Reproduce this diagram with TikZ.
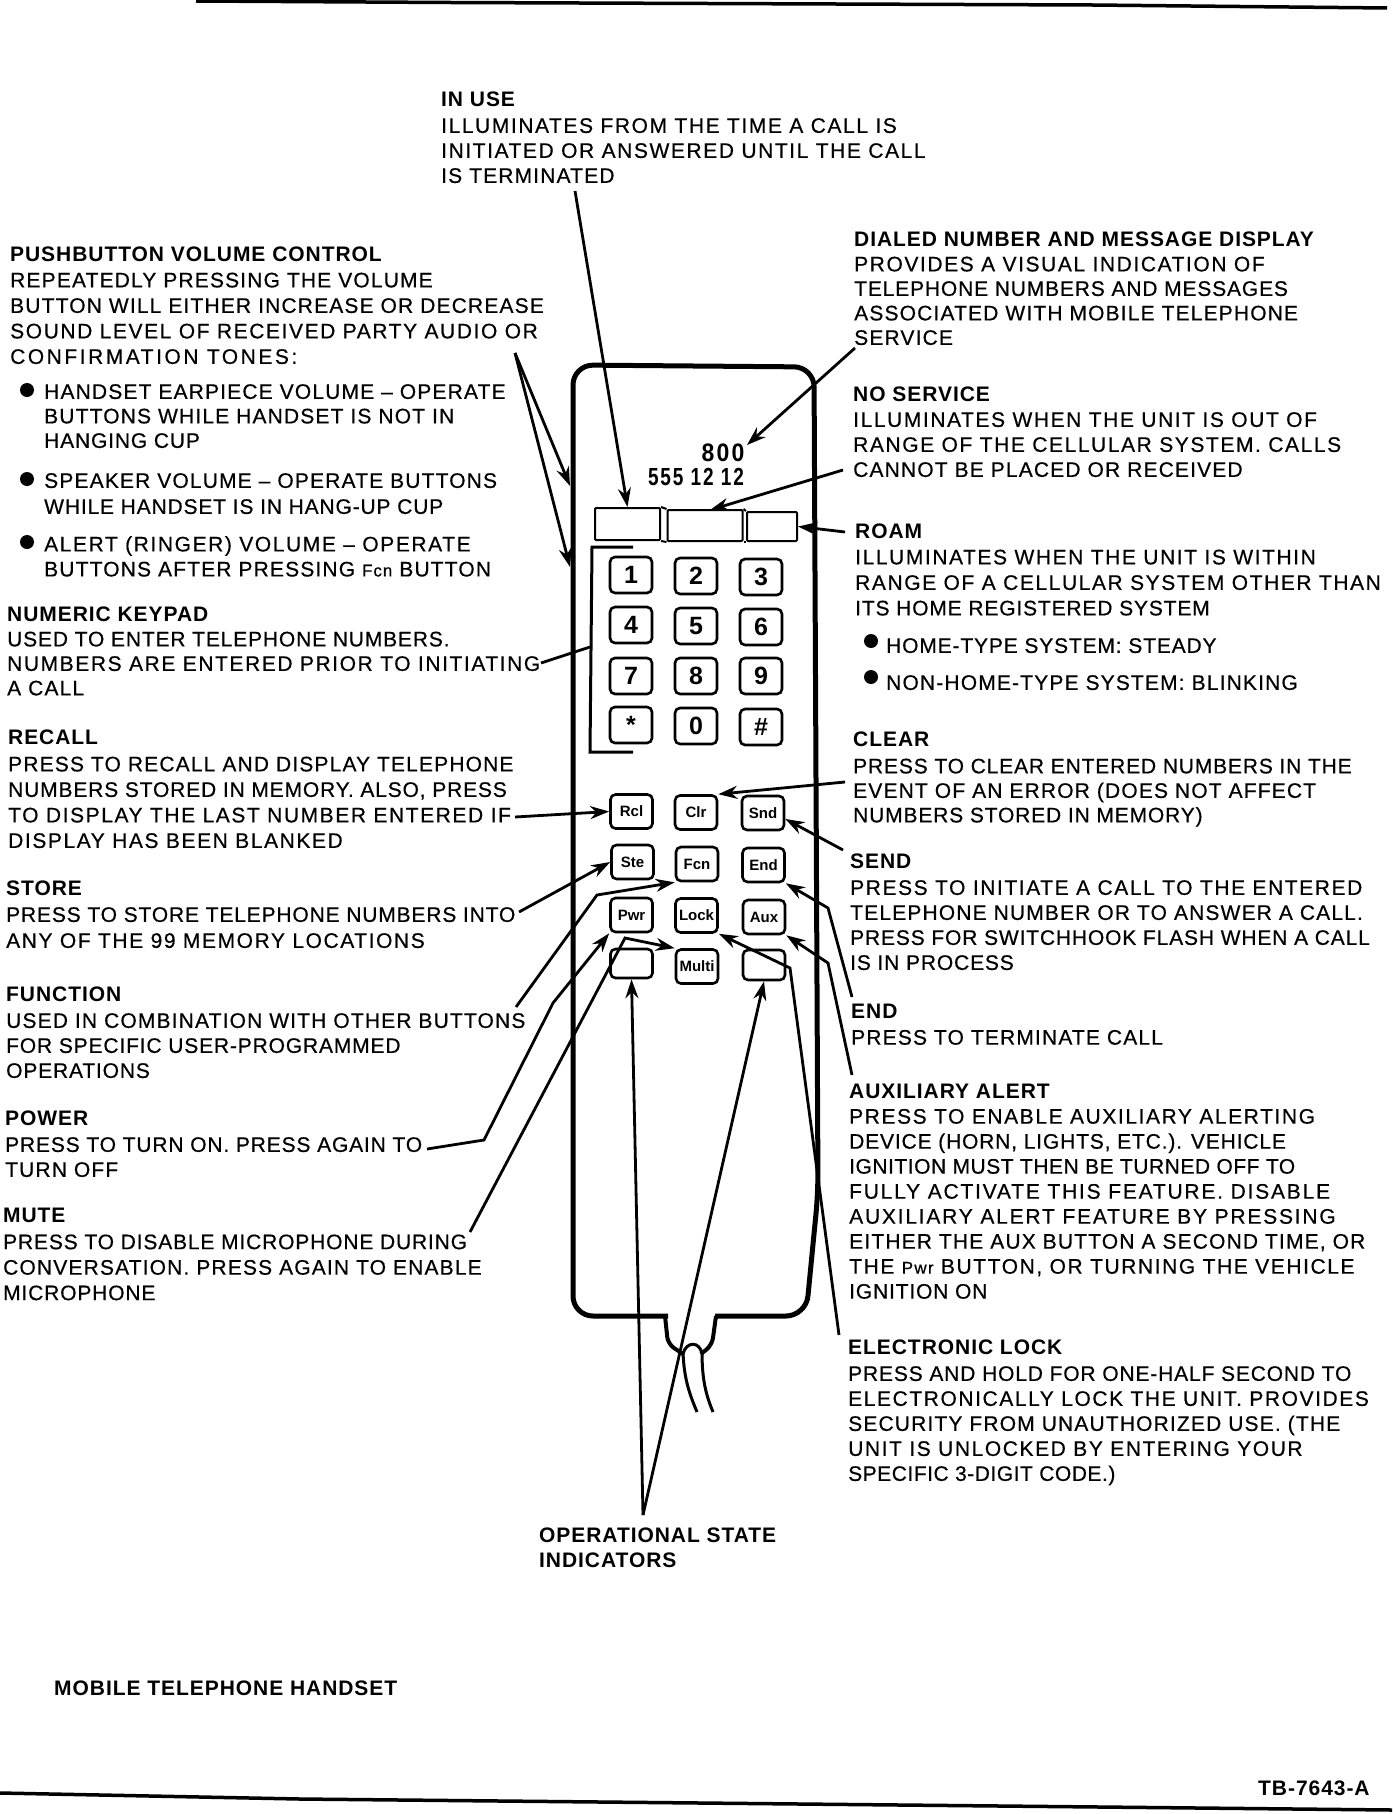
\documentclass[tikz,border=0pt]{standalone}
\usepackage{fontspec}
\setmainfont{Liberation Sans}
\newfontfamily\bodyfont[FakeBold=0.5,LetterSpace=5.5]{Liberation Sans}
\newfontfamily\headfont[LetterSpace=4.5]{Liberation Sans Bold}
\newfontfamily\keyfont{Liberation Sans Bold}
\newfontfamily\dispfont[LetterSpace=10]{Liberation Sans Bold}
\usetikzlibrary{arrows.meta}
\newcommand{\btnname}[1]{{\fontsize{17}{17}\selectfont #1}}
\newcommand{\wider}[1]{{\addfontfeature{LetterSpace=7.5}#1}}
\newcommand{\tighter}[1]{{\addfontfeature{LetterSpace=4}#1}}
\tikzset{
    txtblock/.style={anchor=north west, align=left, inner sep=0, font=\bodyfont\fontsize{21}{#1}\selectfont},
    numkey/.style={draw, line width=2.6pt, rounded corners=5pt, minimum width=42pt, minimum height=36pt, inner sep=0, font=\keyfont\fontsize{25}{25}\selectfont},
    fnkey/.style={numkey, minimum height=34pt, font=\keyfont\fontsize{15}{15}\selectfont},
    dispseg/.style={draw, line width=2pt, inner sep=0, rounded corners=1pt},
    leader/.style={line width=2.8pt, -{Stealth[length=19pt,width=13pt]}},
    plainleader/.style={line width=2.8pt},
    bulletdot/.style={circle, fill=black, inner sep=0, minimum size=14pt}
}
\begin{document}
\begin{tikzpicture}[x=1pt, y=-1pt]
    \useasboundingbox (0,0) rectangle (1392,1814);

    % ---------- 页面上下横线 ----------
    \draw[line width=3.5pt] (196,1) -- (450,2.5) -- (1092,5) -- (1387,8);
    \draw[line width=3.5pt] (0,1793) -- (300,1799) -- (1100,1807) -- (1392,1810);

    % ---------- 手柄外形 ----------
    \draw[line width=5pt, rounded corners=20pt] (668,1316) -- (573,1316) -- (573,365) -- (814,367) -- (818,1193) -- (806,1316) -- (715,1316);
    \draw[line width=4pt, rounded corners=7pt] (665,1316) -- (668,1344) -- (683,1354);
    \draw[line width=4pt, rounded corners=7pt] (716,1316) -- (712,1345) -- (701,1354);
    \draw[line width=3pt] (683,1354) .. controls (686,1341) and (700,1341) .. (702,1354);
    \draw[line width=3pt] (683,1352) .. controls (684,1380) and (690,1395) .. (697,1412);
    \draw[line width=3pt] (702,1352) .. controls (702,1380) and (706,1395) .. (713,1412);

    % ---------- 显示屏 ----------
    \node[font=\dispfont\fontsize{23}{23}\selectfont, inner sep=0] (dispTop) at (723,453) {\scalebox{1}[1.1]{800}};
    \node[font=\dispfont\fontsize{19}{19}\selectfont, inner sep=0] (dispNum) at (696,477) {\scalebox{1}[1.3]{555 12 12}};

    \node[dispseg, minimum width=65pt, minimum height=32pt] (lampUse) at (627.5,524) {};
    \node[dispseg, minimum width=75pt, minimum height=31pt] (lampServ) at (705,525.5) {};
    \node[dispseg, minimum width=50pt, minimum height=29pt] (lampRoam) at (772,526.5) {};
    \draw[line width=2pt] (lampUse.north east) -- (lampServ.north west);
    \draw[line width=2pt] (lampUse.south east) -- (lampServ.south west);
    \draw[line width=2pt] (lampServ.north east) -- (lampRoam.north west);
    \draw[line width=2pt] (lampServ.south east) -- (lampRoam.south west);

    % ---------- 数字键 ----------
    \draw[line width=3pt] (633,547) -- (592,547) -- (590,752) -- (633,752);
    \coordinate (padEdge) at (590,647);

    \node[numkey] (key1) at (631,575) {1};
    \node[numkey] (key2) at (696,576) {2};
    \node[numkey] (key3) at (761,577) {3};
    \node[numkey] (key4) at (631,625) {4};
    \node[numkey] (key5) at (696,626) {5};
    \node[numkey] (key6) at (761,627) {6};
    \node[numkey] (key7) at (631,676) {7};
    \node[numkey] (key8) at (696,676) {8};
    \node[numkey] (key9) at (761,676) {9};
    \node[numkey] (keyStar) at (631,725) {*};
    \node[numkey] (key0) at (696,726) {0};
    \node[numkey] (keyHash) at (761,727) {\#};

    % ---------- 功能键 ----------
    \node[fnkey] (btnRcl) at (631.5,811.5) {Rcl};
    \node[fnkey] (btnClr) at (696,812.5) {Clr};
    \node[fnkey] (btnSnd) at (763,813) {Snd};
    \node[fnkey] (btnSte) at (632.5,862) {Ste};
    \node[fnkey] (btnFcn) at (697,864) {Fcn};
    \node[fnkey] (btnEnd) at (763.5,865) {End};
    \node[fnkey] (btnPwr) at (631.5,915) {Pwr};
    \node[fnkey] (btnLock) at (696.5,915.5) {Lock};
    \node[fnkey] (btnAux) at (764,917) {Aux};
    \node[fnkey, minimum height=29pt] (btnLeft) at (631.5,963.5) {};
    \node[fnkey] (btnMulti) at (697,966.5) {Multi};
    \node[fnkey, minimum height=30pt] (btnRight) at (764,965) {};

    % ---------- 文字说明 ----------
    \node[txtblock=25] (txtUse) at (441,92) {{\headfont IN USE}\\[1pt]
        \wider{ILLUMINATES FROM THE TIME A CALL IS}\\
        \wider{INITIATED OR ANSWERED UNTIL THE CALL}\\
        IS TERMINATED};
    \node[txtblock=24.5] (txtDial) at (854,232) {{\headfont DIALED NUMBER AND MESSAGE DISPLAY}\\
        \wider{PROVIDES A VISUAL INDICATION OF}\\
        \tighter{TELEPHONE NUMBERS AND MESSAGES}\\
        ASSOCIATED WITH MOBILE TELEPHONE\\
        SERVICE};
    \node[txtblock=25] (txtServ) at (853,387) {{\headfont NO SERVICE}\\
        \wider{ILLUMINATES WHEN THE UNIT IS OUT OF}\\
        \wider{RANGE OF THE CELLULAR SYSTEM. CALLS}\\
        CANNOT BE PLACED OR RECEIVED};
    \node[txtblock=25.5] (txtRoam) at (855,524) {{\headfont ROAM}\\
        \wider{ILLUMINATES WHEN THE UNIT IS WITHIN}\\
        \wider{RANGE OF A CELLULAR SYSTEM OTHER THAN}\\
        \tighter{ITS HOME REGISTERED SYSTEM}};
    \node[bulletdot] (dotSteady) at (871,641) {};
    \node[txtblock=25] (txtSteady) at (886,638) {\tighter{HOME-TYPE SYSTEM: STEADY}};
    \node[bulletdot] (dotBlink) at (871,677) {};
    \node[txtblock=25] (txtBlink) at (886,675) {NON-HOME-TYPE SYSTEM: BLINKING};

    \node[txtblock=25.5] (txtPush) at (10,247) {{\headfont PUSHBUTTON VOLUME CONTROL}\\
        REPEATEDLY PRESSING THE VOLUME\\
        BUTTON WILL EITHER INCREASE OR DECREASE\\
        \wider{SOUND LEVEL OF RECEIVED PARTY AUDIO OR}\\
        {\addfontfeature{LetterSpace=12}CONFIRMATION TONES:}};
    \node[bulletdot] (dotEar) at (27,390) {};
    \node[txtblock=24.5] (txtEar) at (44,384) {HANDSET EARPIECE VOLUME – OPERATE\\
        BUTTONS WHILE HANDSET IS NOT IN\\
        \tighter{HANGING CUP}};
    \node[bulletdot] (dotSpk) at (27,479) {};
    \node[txtblock=26] (txtSpk) at (44,473) {SPEAKER VOLUME – OPERATE BUTTONS\\
        \tighter{WHILE HANDSET IS IN HANG-UP CUP}};
    \node[bulletdot] (dotAlert) at (27,542) {};
    \node[txtblock=25] (txtAlert) at (44,536) {\wider{ALERT (RINGER) VOLUME – OPERATE}\\
        BUTTONS AFTER PRESSING \btnname{Fcn} BUTTON};
    \node[txtblock=24.5] (txtPad) at (7,607) {{\headfont NUMERIC KEYPAD}\\
        \tighter{USED TO ENTER TELEPHONE NUMBERS.}\\
        \wider{NUMBERS ARE ENTERED PRIOR TO INITIATING}\\
        A CALL};
    \node[txtblock=25.5] (txtRcl) at (8,730) {{\headfont RECALL}\\[1pt]
        PRESS TO RECALL AND DISPLAY TELEPHONE\\
        \tighter{NUMBERS STORED IN MEMORY. ALSO, PRESS}\\
        \wider{TO DISPLAY THE LAST NUMBER ENTERED IF}\\
        \wider{DISPLAY HAS BEEN BLANKED}};
    \node[txtblock=26] (txtSte) at (6,881) {{\headfont STORE}\\
        \tighter{PRESS TO STORE TELEPHONE NUMBERS INTO}\\
        \wider{ANY OF THE 99 MEMORY LOCATIONS}};
    \node[txtblock=25] (txtFcn) at (6,987) {{\headfont FUNCTION}\\[1pt]
        USED IN COMBINATION WITH OTHER BUTTONS\\
        \tighter{FOR SPECIFIC USER-PROGRAMMED}\\
        \tighter{OPERATIONS}};
    \node[txtblock=25] (txtPwr) at (5,1111) {{\headfont POWER}\\[1pt]
        \tighter{PRESS TO TURN ON. PRESS AGAIN TO}\\
        TURN OFF};
    \node[txtblock=25.5] (txtMute) at (3,1208) {{\headfont MUTE}\\[1pt]
        \tighter{PRESS TO DISABLE MICROPHONE DURING}\\
        CONVERSATION. PRESS AGAIN TO ENABLE\\
        \tighter{MICROPHONE}};

    \node[txtblock=24.5] (txtClr) at (853,732) {{\headfont CLEAR}\\[2pt]
        \tighter{PRESS TO CLEAR ENTERED NUMBERS IN THE}\\
        EVENT OF AN ERROR (DOES NOT AFFECT\\
        \tighter{NUMBERS STORED IN MEMORY)}};
    \node[txtblock=25] (txtSnd) at (850,854) {{\headfont SEND}\\[1pt]
        \wider{PRESS TO INITIATE A CALL TO THE ENTERED}\\
        TELEPHONE NUMBER OR TO ANSWER A CALL.\\
        \tighter{PRESS FOR SWITCHHOOK FLASH WHEN A CALL}\\
        \tighter{IS IN PROCESS}};
    \node[txtblock=26] (txtEnd) at (851,1004) {{\headfont END}\\
        PRESS TO TERMINATE CALL};
    \node[txtblock=25] (txtAux) at (849,1084) {{\headfont AUXILIARY ALERT}\\
        \wider{PRESS TO ENABLE AUXILIARY ALERTING}\\
        \tighter{DEVICE (HORN, LIGHTS, ETC.). VEHICLE}\\
        {\addfontfeature{LetterSpace=2.5}IGNITION MUST THEN BE TURNED OFF TO}\\
        {\addfontfeature{LetterSpace=8.5}FULLY ACTIVATE THIS FEATURE. DISABLE}\\
        {\addfontfeature{LetterSpace=8.5}AUXILIARY ALERT FEATURE BY PRESSING}\\
        EITHER THE AUX BUTTON A SECOND TIME, OR\\
        \wider{THE \btnname{Pwr} BUTTON, OR TURNING THE VEHICLE}\\
        \tighter{IGNITION ON}};
    \node[txtblock=25] (txtLock) at (848,1340) {{\headfont ELECTRONIC LOCK}\\[1pt]
        \tighter{PRESS AND HOLD FOR ONE-HALF SECOND TO}\\
        \wider{ELECTRONICALLY LOCK THE UNIT. PROVIDES}\\
        SECURITY FROM UNAUTHORIZED USE. (THE\\
        \wider{UNIT IS UNLOCKED BY ENTERING YOUR}\\
        {\addfontfeature{LetterSpace=2.5}SPECIFIC 3-DIGIT CODE.)}};
    \node[txtblock=25] (txtState) at (539,1528) {{\headfont OPERATIONAL STATE}\\
        {\headfont INDICATORS}};
    \node[txtblock=25] (txtTitle) at (54,1681) {{\headfont MOBILE TELEPHONE HANDSET}};
    \node[txtblock=25] (txtCode) at (1258,1781) {{\headfont TB-7643-A}};

    % ---------- 引线 ----------
    \coordinate (useStart) at (575,191);
    \coordinate (dialStart) at (855,348);
    \coordinate (dialTip) at (747,445);
    \coordinate (servStart) at (843,470);
    \coordinate (servTip) at (710,510);
    \coordinate (roamStart) at (845,532);
    \coordinate (pushStart) at (515,353);
    \coordinate (pushTipA) at (570,486);
    \coordinate (pushTipB) at (570,567);
    \coordinate (padStart) at (541,663);
    \coordinate (rclStart) at (515,817);
    \coordinate (clrStart) at (845,782);
    \coordinate (sndStart) at (843,850);
    \coordinate (steStart) at (519,912);
    \coordinate (fcnStart) at (516,1007);
    \coordinate (fcnBend) at (597,895);
    \coordinate (endStart) at (852,997);
    \coordinate (endBend) at (828,908);
    \coordinate (pwrStart) at (427,1149);
    \coordinate (pwrBendA) at (484,1140);
    \coordinate (pwrBendB) at (553,1003);
    \coordinate (muteStart) at (470,1232);
    \coordinate (muteBend) at (625,938);
    \coordinate (auxStart) at (852,1075);
    \coordinate (auxBend) at (828,963);
    \coordinate (lockStart) at (839,1335);
    \coordinate (lockBend) at (790,968);
    \coordinate (stateStart) at (643,1515);

    \draw[leader] (useStart) -- (lampUse.north);
    \draw[leader] (dialStart) -- (dialTip);
    \draw[leader] (servStart) -- (servTip);
    \draw[leader] (roamStart) -- (lampRoam.east);
    \draw[leader] (pushStart) -- (pushTipA);
    \draw[leader] (pushStart) -- (pushTipB);
    \draw[plainleader] (padStart) -- (padEdge);
    \draw[leader] (rclStart) -- (btnRcl.west);
    \draw[leader] (clrStart) -- (btnClr.north east);
    \draw[leader] (sndStart) -- (btnSnd.-15);
    \draw[leader] (steStart) -- (btnSte.west);
    \draw[leader] (fcnStart) -- (fcnBend) -- (btnFcn.south west);
    \draw[leader] (endStart) -- (endBend) -- (btnEnd.south east);
    \draw[leader] (pwrStart) -- (pwrBendA) -- (pwrBendB) -- (btnPwr.south west);
    \draw[leader] (muteStart) -- (muteBend) -- (btnMulti.north west);
    \draw[leader] (auxStart) -- (auxBend) -- (btnAux.south east);
    \draw[leader] (lockStart) -- (lockBend) -- (btnLock.south east);
    \draw[leader] (stateStart) -- (btnLeft.south);
    \draw[leader] (stateStart) -- (btnRight.south);
\end{tikzpicture}
\end{document}
